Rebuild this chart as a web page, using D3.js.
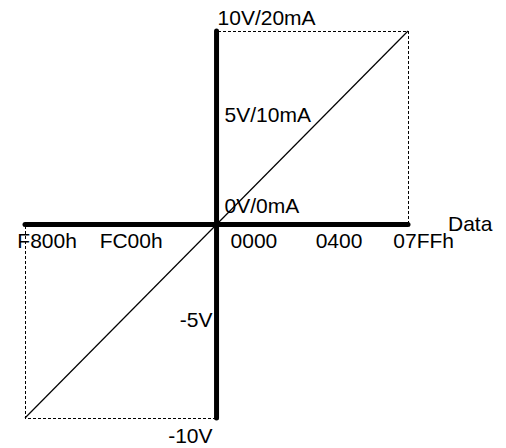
<!DOCTYPE html>
<html>
<head>
<meta charset="utf-8">
<script src="https://cdn.jsdelivr.net/npm/d3@7"></script>
<style>
  html, body { margin: 0; padding: 0; background: #fff; }
  text { font-family: "Liberation Sans", Arial, sans-serif; font-size: 21px; fill: #000; }
</style>
</head>
<body>
<script>
// data range of the converter: code vs output
const codeRange = [-2048, 2047],
  voltRange = [-10, 10];

// transfer line end points (code, volts)
const transfer = [
  { code: -2048, volt: -10 },
  { code: 2047, volt: 10 },
];

// x labels and where they sit (code units)
const xLabels = ["F800h", "FC00h", "0000", "0400", "07FFh"],
  xLabelAt = [-2130, -1250, 150, 1060, 1890];

// y labels and where they sit (volts)
const yLabels = ["10V/20mA", "5V/10mA", "0V/0mA", "-5V", "-10V"],
  yLabelAt = [10.3, 5.3, 0.6, -5.3, -11.3],
  yLabelLeft = [false, false, false, true, true];

const baseWidth = 506,
  baseHeight = 448;

const x = d3.scaleLinear().domain(codeRange).range([25, 408]),
  y = d3.scaleLinear().domain(voltRange).range([418, 31]);

const svg = d3
  .select("body")
  .append("svg")
  .attr("width", baseWidth)
  .attr("height", baseHeight);

// dashed boxes in the two quadrants
const dashed = [
  [[0, 10], [2047, 10], [2047, 0]],
  [[-2048, 0], [-2048, -10], [0, -10]],
];
const line = d3
  .line()
  .x((d) => Math.round(x(d[0])) + 0.5)
  .y((d) => Math.round(y(d[1])) + 0.5);

svg
  .selectAll(".box")
  .data(dashed)
  .enter()
  .append("path")
  .attr("d", line)
  .attr("fill", "none")
  .attr("stroke", "#000")
  .attr("stroke-width", 1)
  .attr("stroke-dasharray", "3,2")
  .attr("shape-rendering", "crispEdges");

// transfer line
svg
  .append("path")
  .attr("d", d3.line().x((d) => x(d.code)).y((d) => y(d.volt))(transfer))
  .attr("fill", "none")
  .attr("stroke", "#000")
  .attr("stroke-width", 1.2);

// thick axes
svg
  .append("line")
  .attr("x1", x(codeRange[0]))
  .attr("x2", x(codeRange[1]))
  .attr("y1", y(0))
  .attr("y2", y(0))
  .attr("stroke", "#000")
  .attr("stroke-width", 5)
  .attr("stroke-linecap", "round");

svg
  .append("line")
  .attr("x1", x(0))
  .attr("x2", x(0))
  .attr("y1", y(voltRange[0]))
  .attr("y2", y(voltRange[1]))
  .attr("stroke", "#000")
  .attr("stroke-width", 5)
  .attr("stroke-linecap", "round");

// x labels under the axis
svg
  .selectAll(".xl")
  .data(xLabels)
  .enter()
  .append("text")
  .attr("x", (d, i) => x(xLabelAt[i]))
  .attr("y", y(0) + 23)
  .text((d) => d);

svg
  .append("text")
  .attr("x", x(codeRange[1]) + 40)
  .attr("y", y(0) + 6)
  .text("Data");

// y labels beside the axis
svg
  .selectAll(".yl")
  .data(yLabels)
  .enter()
  .append("text")
  .attr("x", (d, i) => (yLabelLeft[i] ? x(0) - 4 : x(0) + (i === 0 ? 1 : 8)))
  .attr("y", (d, i) => y(yLabelAt[i]))
  .attr("text-anchor", (d, i) => (yLabelLeft[i] ? "end" : "start"))
  .text((d) => d);
</script>
</body>
</html>
